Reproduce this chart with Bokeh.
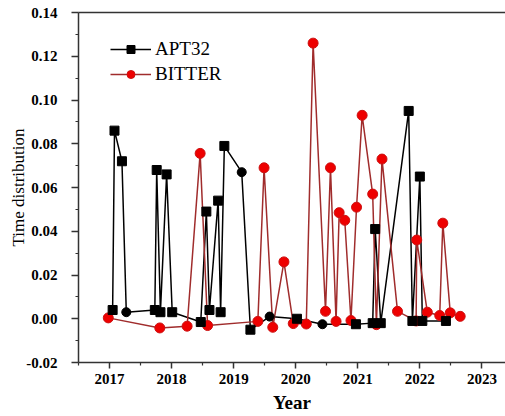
from bokeh.plotting import figure
from bokeh.models import (Range1d, FixedTicker, PrintfTickFormatter, Legend,
                          LegendItem, LinearAxis, ColumnDataSource)
from bokeh.embed import file_html
from bokeh.resources import INLINE

# ---- data ----
apt_year = [2017.05, 2017.08, 2017.20, 2017.27, 2017.73, 2017.76, 2017.82, 2017.92,
            2018.01, 2018.47, 2018.56, 2018.61, 2018.75, 2018.79, 2018.85, 2019.13,
            2019.27, 2019.58, 2020.02, 2020.43, 2020.97, 2021.24, 2021.28, 2021.37,
            2021.82, 2021.88, 2022.00, 2022.04, 2022.42]
apt_val = [0.004, 0.086, 0.072, 0.003, 0.004, 0.068, 0.003, 0.066,
           0.003, -0.0015, 0.049, 0.004, 0.054, 0.003, 0.079, 0.067,
           -0.005, 0.001, 0.000, -0.0025, -0.0025, -0.002, 0.041, -0.002,
           0.095, -0.001, 0.065, -0.001, -0.001]

bit_year = [2016.98, 2017.81, 2018.25, 2018.46, 2018.58, 2019.39, 2019.49, 2019.63,
            2019.81, 2019.96, 2020.17, 2020.28, 2020.48, 2020.56, 2020.65, 2020.70,
            2020.79, 2020.89, 2020.98, 2021.07, 2021.24, 2021.30, 2021.39, 2021.64,
            2021.94, 2021.95, 2022.12, 2022.32, 2022.37, 2022.49, 2022.65]
bit_val = [0.0004, -0.0042, -0.0034, 0.0756, -0.0031, -0.0012, 0.069, -0.0039,
           0.026, -0.0022, -0.0024, 0.126, 0.0034, 0.069, -0.0012, 0.0485,
           0.045, -0.0008, 0.051, 0.093, 0.057, -0.0027, 0.073, 0.0034,
           -0.001, 0.036, 0.003, 0.0015, 0.0437, 0.0027, 0.0011]

x_ticks = [2017, 2018, 2019, 2020, 2021, 2022, 2023]
y_ticks = [-0.02, 0.0, 0.02, 0.04, 0.06, 0.08, 0.10, 0.12, 0.14]

# APT32 points drawn as black circles in the reference
apt_circle_idx = [3, 15, 17, 19]

SERIF = "'Liberation Serif', 'Times New Roman', Times, serif"
AX = "#333333"

p = figure(width=505, height=416, output_backend="svg", toolbar_location=None,
           x_range=Range1d(2016.5, 2023.38), y_range=Range1d(-0.02, 0.14),
           min_border_left=78, min_border_top=12, min_border_right=0,
           min_border_bottom=54)
p.outline_line_color = None
p.grid.visible = False
p.background_fill_color = "white"

# ---- axes ----
xa = p.xaxis[0]
xa.ticker = FixedTicker(ticks=x_ticks, minor_ticks=[t + 0.5 for t in x_ticks[:-1]] + [2016.5])
ya = p.yaxis[0]
ya.ticker = FixedTicker(ticks=y_ticks, minor_ticks=[round(t + 0.01, 3) for t in y_ticks[:-1]])
ya.formatter = PrintfTickFormatter(format="%.2f")

for ax in (xa, ya):
    ax.axis_line_color = AX
    ax.axis_line_width = 1.5
    ax.major_tick_line_color = AX
    ax.major_tick_line_width = 1.5
    ax.minor_tick_line_color = AX
    ax.minor_tick_line_width = 1.2
    ax.major_tick_out = 6
    ax.major_tick_in = 0
    ax.minor_tick_out = 3
    ax.minor_tick_in = 0
    ax.major_label_text_font = SERIF
    ax.major_label_text_font_style = "bold"
    ax.major_label_text_font_size = "15px"
    ax.major_label_text_color = "black"
    ax.axis_label_text_font = SERIF
    ax.axis_label_text_color = "black"

xa.axis_label = "Year"
xa.axis_label_text_font_size = "19px"
xa.axis_label_text_font_style = "bold"
xa.major_label_standoff = 5
xa.axis_label_standoff = 5

ya.axis_label = "Time distribution"
ya.axis_label_text_font_size = "17px"
ya.axis_label_text_font_style = "normal"
ya.major_tick_out = 7
ya.major_label_standoff = 14
ya.axis_label_standoff = -5

top = LinearAxis(ticker=FixedTicker(ticks=[], minor_ticks=[]),
                 major_tick_line_color=None, minor_tick_line_color=None,
                 axis_line_color=AX, axis_line_width=1.5, major_label_standoff=0)
p.add_layout(top, "above")

# ---- series ----
apt_src = ColumnDataSource(dict(x=apt_year, y=apt_val))
bit_src = ColumnDataSource(dict(x=bit_year, y=bit_val))
apt_src.data["m"] = ["circle" if i in apt_circle_idx else "square" for i in range(len(apt_year))]

l1 = p.line("x", "y", source=apt_src, line_color="black", line_width=1.5)
l2 = p.line("x", "y", source=bit_src, line_color="#A02C2C", line_width=1.5)
s2 = p.scatter("x", "y", source=bit_src, marker="circle", size=10,
               fill_color="#EE0000", line_color="#CC1111", line_width=1)
s1 = p.scatter("x", "y", source=apt_src, marker="m", size=9,
               fill_color="black", line_color="black")

# legend proxies
lg1 = p.line([0], [0], line_color="black", line_width=1.5)
lg1s = p.scatter([0], [0], marker="square", size=9, fill_color="black", line_color="black")
lg2 = p.line([0], [0], line_color="#A02C2C", line_width=1.5)
lg2s = p.scatter([0], [0], marker="circle", size=10, fill_color="#EE0000", line_color="#CC1111")

legend = Legend(items=[LegendItem(label="APT32", renderers=[lg1, lg1s]),
                       LegendItem(label="BITTER", renderers=[lg2, lg2s])],
                location=(32, 277), padding=0, margin=0, spacing=3,
                glyph_width=41, glyph_height=20, label_height=20,
                label_standoff=4, border_line_color=None,
                background_fill_alpha=0,
                label_text_font=SERIF, label_text_font_size="19px",
                label_text_color="black")
p.add_layout(legend)

open("out.html", "w").write(file_html(p, INLINE))
